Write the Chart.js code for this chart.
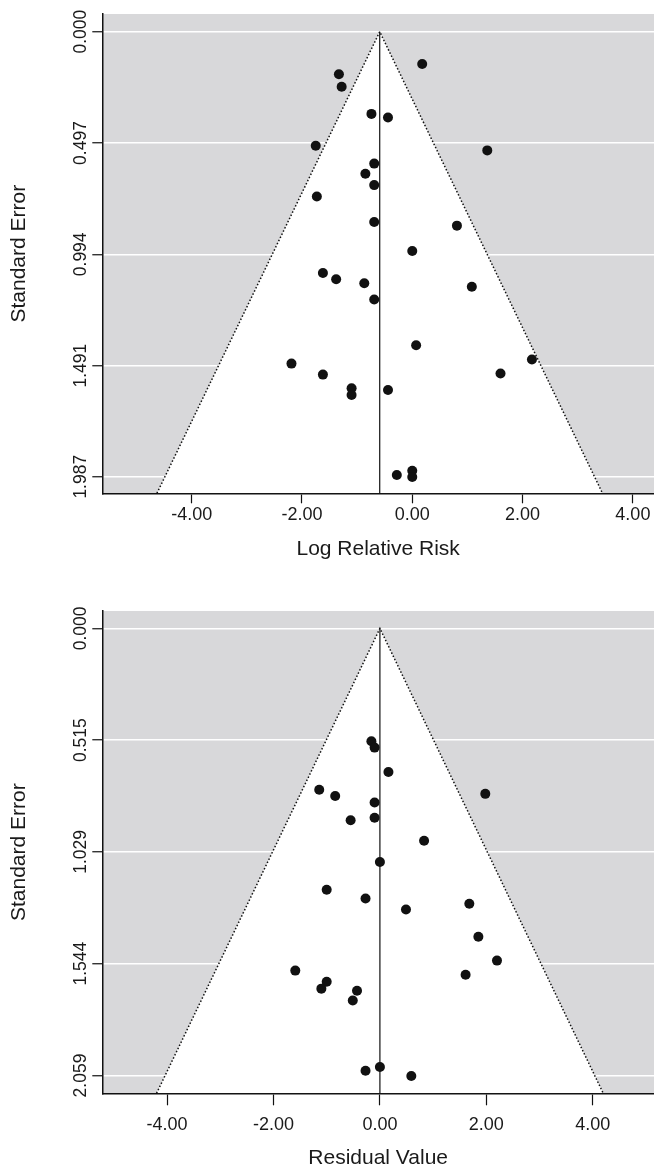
<!DOCTYPE html>
<html>
<head>
<meta charset="utf-8">
<script src="https://cdn.jsdelivr.net/npm/chart.js@4.4.1/dist/chart.umd.min.js"></script>
<style>
  html, body { margin: 0; padding: 0; background: #fff; }
  body { width: 654px; height: 1169px; position: relative; overflow: hidden; }
  canvas { position: absolute; left: 0; }
  #topChart { top: 0; }
  #bottomChart { top: 597px; }
</style>
</head>
<body>
<canvas id="topChart" width="654" height="560"></canvas>
<canvas id="bottomChart" width="654" height="572"></canvas>
<script>
"use strict";

// top panel: log relative risk vs standard error
const topLogRR = [0.18, -1.33, -1.28, -0.74, -0.44, -1.75, 1.36, -0.69, -0.85, -0.69,
  -1.73, -0.69, 0.81, 0.00, -1.62, -1.38, -0.87, 1.08, -0.69, 0.07,
  2.17, -2.19, -1.62, 1.60, -1.10, -1.10, -0.44, 0.00, -0.28, 0.00];
const topSE = [0.144, 0.190, 0.246, 0.367, 0.383, 0.509, 0.530, 0.589, 0.634, 0.685,
  0.736, 0.850, 0.866, 0.979, 1.077, 1.105, 1.123, 1.139, 1.196, 1.400,
  1.464, 1.482, 1.531, 1.526, 1.592, 1.622, 1.600, 1.960, 1.979, 1.988];
const topPooled = -0.59;
const topSETicks = [0, 0.497, 0.994, 1.491, 1.987];

// bottom panel: residual value vs standard error
const residValue = [-0.16, -0.10, 0.16, -1.14, -0.84, 1.98, -0.10, -0.55, -0.10, 0.83,
  0.00, -1.00, -0.27, 1.68, 0.49, 1.85, 2.20, -1.59, 1.61, -1.00,
  -1.10, -0.43, -0.51, 0.00, -0.27, 0.59];
const residSE = [0.520, 0.549, 0.661, 0.743, 0.772, 0.762, 0.802, 0.884, 0.872, 0.978,
  1.076, 1.204, 1.244, 1.268, 1.295, 1.420, 1.530, 1.576, 1.595, 1.627,
  1.659, 1.669, 1.714, 2.020, 2.037, 2.061];
const residPooled = 0;
const residSETicks = [0, 0.515, 1.029, 1.544, 2.059];

const xTicks = [-4, -2, 0, 2, 4];

const FONT = "'Liberation Sans', Arial, Helvetica, sans-serif";
const TEXT = '#1a1a1a';

// grey plotting region
const plotBg = {
  id: 'plotBg',
  beforeDraw(chart) {
    const {ctx, chartArea: a} = chart;
    ctx.save();
    ctx.fillStyle = '#d8d8da';
    ctx.fillRect(a.left, a.top, a.right - a.left, a.bottom - a.top);
    ctx.restore();
  }
};

function funnelChart(id, o) {
  const pts = o.xs.map((x, i) => ({x: x, y: o.ses[i]}));
  const yb = o.yMax;
  const funnel = [
    {x: o.pooled - 1.96 * yb, y: yb},
    {x: o.pooled, y: 0},
    {x: o.pooled + 1.96 * yb, y: yb}
  ];
  const vline = [{x: o.pooled, y: 0}, {x: o.pooled, y: yb}];

  return new Chart(document.getElementById(id), {
    type: 'scatter',
    data: {
      datasets: [
        {
          data: pts,
          pointRadius: 5,
          pointBackgroundColor: '#111',
          pointBorderWidth: 0
        },
        {
          data: vline,
          showLine: true,
          pointRadius: 0,
          borderColor: '#111',
          borderWidth: 1.2
        },
        {
          data: funnel,
          showLine: true,
          pointRadius: 0,
          borderColor: '#111',
          borderWidth: 1.5,
          borderDash: [1.5, 2],
          backgroundColor: '#fff',
          fill: {target: {value: yb}}
        }
      ]
    },
    options: {
      responsive: false,
      animation: false,
      events: [],
      layout: {autoPadding: false, padding: {left: 9, top: 14, right: 0, bottom: 0}},
      plugins: {legend: {display: false}, tooltip: {enabled: false}},
      scales: {
        x: {
          type: 'linear',
          min: o.xMin,
          max: o.xMax,
          afterBuildTicks: s => { s.ticks = xTicks.map(v => ({value: v})); },
          afterFit: s => { s.height = o.xAxisH; s.paddingLeft = 0; s.paddingRight = 0; },
          border: {display: true, color: '#111', width: 1.5},
          grid: {drawOnChartArea: false, drawTicks: true, tickLength: o.tickLen, tickColor: '#111', tickWidth: 1.2},
          ticks: {
            autoSkip: false,
            maxRotation: 0,
            padding: o.xPad,
            color: TEXT,
            font: {family: FONT, size: 18, lineHeight: 1},
            callback: v => Number(v).toFixed(2)
          },
          title: {
            display: true,
            text: o.xTitle,
            color: TEXT,
            padding: 0,
            font: {family: FONT, size: 21, lineHeight: 1}
          }
        },
        y: {
          type: 'linear',
          reverse: true,
          min: o.yMin,
          max: o.yMax,
          afterBuildTicks: s => { s.ticks = o.seTicks.map(v => ({value: v})); },
          afterFit: s => { s.width = 93.3; },
          border: {display: true, color: '#111', width: 1.5},
          grid: {color: '#fff', lineWidth: 1.5, drawTicks: true, tickLength: 10, tickColor: '#111', tickWidth: 1.2},
          ticks: {
            autoSkip: false,
            minRotation: 90,
            maxRotation: 90,
            crossAlign: 'center',
            padding: -10.6,
            color: TEXT,
            font: {family: FONT, size: 17.5, lineHeight: 1},
            callback: v => Number(v).toFixed(3)
          },
          title: {
            display: true,
            text: 'Standard Error',
            color: TEXT,
            padding: 0,
            font: {family: FONT, size: 21, lineHeight: 1}
          }
        }
      }
    },
    plugins: [plotBg]
  });
}

funnelChart('topChart', {
  xs: topLogRR, ses: topSE, pooled: topPooled, seTicks: topSETicks,
  xMin: -5.62, xMax: 4.383, yMin: -0.079, yMax: 2.061,
  xAxisH: 66.7, tickLen: 10, xPad: 2.7, xTitle: 'Log Relative Risk'
});

funnelChart('bottomChart', {
  xs: residValue, ses: residSE, pooled: residPooled, seTicks: residSETicks,
  xMin: -5.216, xMax: 5.15, yMin: -0.080, yMax: 2.141,
  xAxisH: 75.7, tickLen: 12, xPad: 10.7, xTitle: 'Residual Value'
});
</script>
</body>
</html>
